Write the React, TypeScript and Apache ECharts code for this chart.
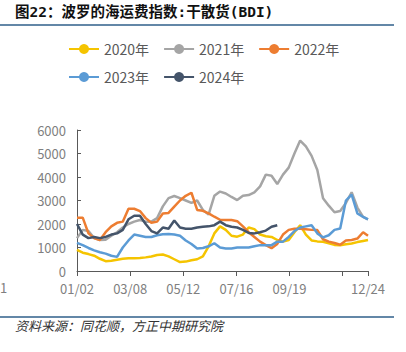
import React, { useEffect, useRef } from "react";
import * as echarts from "echarts";

const seriesNames = ["2020年", "2021年", "2022年", "2023年", "2024年"];
const seriesColors = ["#F5C400", "#A5A5A5", "#ED7D31", "#5B9BD5", "#44546A"];

// day offsets from 01/02 (weekly samples, last = 12/24)
const days = [
  0, 7, 14, 21, 28, 35, 42, 49, 56, 63, 70, 77, 84, 91, 98, 105, 112, 119, 126, 133,
  140, 147, 154, 161, 168, 175, 182, 189, 196, 203, 210, 217, 224, 231, 238, 245, 252,
  259, 266, 273, 280, 287, 294, 301, 308, 315, 322, 329, 336, 343, 350, 356,
];
const xTickLabels = ["01/02", "03/08", "05/12", "07/16", "09/19", "", "12/24"];
const yTickMax = 6000;
const yTickStep = 1000;

const y2020 = [
  900, 780, 720, 650, 520, 420, 440, 480, 520, 540, 540, 550, 580, 620, 680, 700, 620, 500,
  380, 400, 460, 500, 620, 1050, 1600, 1900, 1750, 1500, 1460, 1550, 1850, 1780, 1550, 1480,
  1450, 1320, 1250, 1320, 1650, 1950, 1550, 1300, 1260, 1240, 1180, 1110, 1100, 1140, 1170,
  1230, 1280, 1320,
];
const y2021 = [
  1400, 1750, 1700, 1400, 1320, 1330, 1500, 1650, 1850, 2000, 2100, 2170, 2100, 2100, 2250,
  2750, 3100, 3190, 3100, 3000, 2900, 3000, 2600, 2400, 3200, 3380, 3300, 3150, 3020, 3200,
  3230, 3350, 3600, 4100, 4050, 3700, 4100, 4400, 5000, 5550, 5300, 4900, 4300, 3100, 2780,
  2500, 2550, 2900, 3350, 2700, 2300, 2200,
];
const y2022 = [
  2270, 2270, 1600, 1400, 1320, 1650, 1900, 2050, 2100, 2650, 2650, 2550, 2250, 2050, 2100,
  2450, 2470, 2740, 3000, 3200, 3330, 2600, 2560, 2450, 2310, 2180, 2170, 2170, 2120, 1900,
  1650, 1450, 1250, 1100, 970, 1150, 1550, 1750, 1800, 1800, 1780, 1750, 1740, 1350, 1250,
  1190, 1120, 1300, 1320, 1380, 1650, 1500,
];
const y2023 = [
  1200, 1100, 980, 880, 800, 740, 650, 600, 1000, 1300, 1550, 1500, 1450, 1450, 1520, 1560,
  1570, 1550, 1500, 1300, 1150, 960, 980, 1050, 1180, 1000, 960, 960, 1000, 1000, 1000, 1050,
  1100, 1100, 1100, 1250, 1250, 1450, 1700, 1850, 1900, 1950, 1600, 1430, 1520, 1750, 1810,
  3000, 3250, 2450, 2300, 2200,
];
const y2024 = [
  2000, 1550, 1400, 1450, 1400, 1450, 1550, 1600, 1750, 2200, 2350, 2350, 2000, 1700, 1600,
  1850, 1800, 2150, 1850, 1800, 1800, 1850, 1880, 1900, 1950, 2100, 1950, 1880, 1850, 1750,
  1620, 1600, 1650, 1720, 1880, 1950,
];
const allValues = [y2020, y2021, y2022, y2023, y2024];

const FONT = "'Noto Sans CJK SC', 'Noto Sans', sans-serif";
const TITLE_FONT = "'DejaVu Sans Mono', 'Noto Sans CJK SC', sans-serif";

export default function App() {
  const ref = useRef<HTMLDivElement>(null);
  useEffect(() => {
    if (!ref.current) return;
    const chart = echarts.init(ref.current, undefined, { renderer: "svg" });
    const option: any = {
      animation: false,
      backgroundColor: "#ffffff",
      textStyle: { fontFamily: FONT },
      graphic: [
        {
          type: "text",
          left: 15,
          top: 5,
          style: {
            text: "图22：波罗的海运费指数:干散货(BDI)",
            fontSize: 14.5,
            fontWeight: "bold",
            fontFamily: TITLE_FONT,
            fill: "#111111",
          },
        },
        {
          type: "line",
          shape: { x1: 0, y1: 25, x2: 394, y2: 25 },
          style: { stroke: "#2F5F8A", lineWidth: 1.5 },
        },
        {
          type: "line",
          shape: { x1: 0, y1: 317, x2: 394, y2: 317 },
          style: { stroke: "#2F5F8A", lineWidth: 1.5 },
        },
        {
          type: "text",
          left: 15,
          top: 319,
          style: {
            text: "资料来源：同花顺，方正中期研究院",
            fontSize: 13,
            fontStyle: "italic",
            fontFamily: FONT,
            fill: "#333333",
          },
        },
        {
          type: "text",
          left: 0,
          top: 281,
          style: { text: "1", fontSize: 13, fontFamily: FONT, fill: "#7F7F7F" },
        },
      ],
      legend: {
        left: 63,
        top: 37,
        width: 300,
        itemWidth: 30,
        itemHeight: 12.5,
        itemGap: 14,
        textStyle: { fontSize: 14, color: "#595959", fontFamily: FONT },
        data: seriesNames,
      },
      grid: { left: 77, right: 38, top: 130, bottom: 81, containLabel: false },
      xAxis: {
        type: "value",
        min: 0,
        max: days[days.length - 1],
        interval: 65,
        splitLine: { show: false },
        axisLine: { show: true, lineStyle: { color: "#595959", width: 1 } },
        axisTick: { show: true, inside: false, length: 5, lineStyle: { color: "#595959" } },
        axisLabel: {
          show: true,
          showMinLabel: true,
          showMaxLabel: true,
          margin: 10,
          fontSize: 13,
          lineHeight: 14,
          color: "#7F7F7F",
          fontFamily: FONT,
          formatter: (_v: number, i: number) => xTickLabels[i] ?? "",
        },
      },
      yAxis: {
        type: "value",
        min: 0,
        max: yTickMax,
        interval: yTickStep,
        splitLine: { show: false },
        axisLine: { show: true, lineStyle: { color: "#595959", width: 1 } },
        axisTick: { show: true, inside: true, length: 4, lineStyle: { color: "#595959" } },
        axisLabel: {
          margin: 11,
          fontSize: 13,
          lineHeight: 13,
          color: "#7F7F7F",
          fontFamily: FONT,
          formatter: (v: number) => String(v),
        },
      },
      series: seriesNames.map((name, k) => ({
        name,
        type: "line",
        symbol: "circle",
        showSymbol: false,
        color: seriesColors[k],
        lineStyle: { width: 2.5, color: seriesColors[k] },
        itemStyle: { color: seriesColors[k] },
        data: allValues[k].map((v, i) => [days[i], v]),
        z: k === 4 ? 3 : 2,
      })),
    };
    chart.setOption(option);
    return () => chart.dispose();
  }, []);
  return (
    <div
      ref={ref}
      style={{ position: "fixed", left: 0, top: 0, width: 406, height: 352, background: "#fff" }}
    />
  );
}
